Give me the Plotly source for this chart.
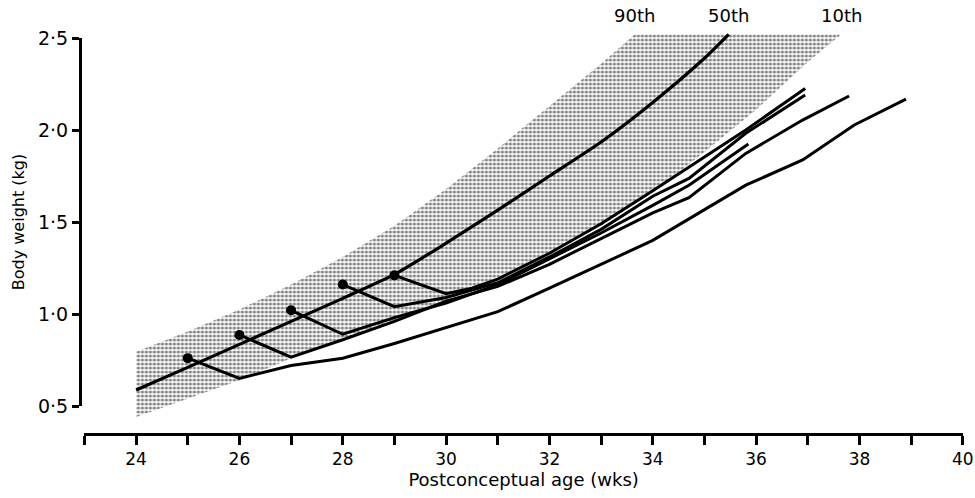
import plotly.graph_objects as go

# ---------------- data ----------------
weeks_p90 = [24, 25, 26, 27, 28, 29, 30, 31, 32, 33, 33.65]
p90 = [0.795, 0.905, 1.025, 1.16, 1.31, 1.48, 1.68, 1.90, 2.13, 2.36, 2.52]

weeks_p10 = [24, 25, 26, 27, 28, 29, 30, 31, 32, 33, 34, 35, 36, 37, 37.65]
p10 = [0.44, 0.54, 0.64, 0.76, 0.86, 0.96, 1.07, 1.20, 1.33, 1.48, 1.66, 1.88, 2.11, 2.37, 2.52]

weeks_p50 = [24, 25, 26, 27, 28, 29, 30, 31, 32, 33, 34, 35, 35.47]
p50 = [0.587, 0.71, 0.835, 0.96, 1.085, 1.215, 1.385, 1.565, 1.75, 1.935, 2.15, 2.39, 2.52]

inf1_wk = [25, 26, 27, 28, 29, 30, 31, 32, 33, 34, 35.8, 36.9, 37.9, 38.9]
inf1_wt = [0.76, 0.65, 0.72, 0.76, 0.84, 0.925, 1.013, 1.14, 1.27, 1.40, 1.70, 1.837, 2.027, 2.168]

inf2_wk = [26, 27, 28, 29, 30, 31, 32, 33, 34, 34.7, 35.8, 36.9, 37.8]
inf2_wt = [0.886, 0.765, 0.86, 0.96, 1.07, 1.15, 1.27, 1.41, 1.55, 1.632, 1.873, 2.054, 2.185]

inf3_wk = [27, 28, 29, 30, 31, 32, 33, 34, 34.7, 35.85]
inf3_wt = [1.02, 0.89, 0.98, 1.06, 1.16, 1.30, 1.44, 1.59, 1.70, 1.924]

inf4_wk = [28, 29, 30, 31, 32, 33, 34, 34.7, 35.8, 36.95]
inf4_wt = [1.16, 1.04, 1.09, 1.17, 1.31, 1.46, 1.64, 1.737, 1.982, 2.19]

inf5_wk = [29, 30, 30.5, 31, 32, 33, 34, 34.7, 35.8, 36.95]
inf5_wt = [1.21, 1.11, 1.14, 1.19, 1.33, 1.49, 1.67, 1.80, 2.00, 2.226]

y_tickvals = [0.5, 1.0, 1.5, 2.0, 2.5]
y_ticktext = ["0·5", "1·0", "1·5", "2·0", "2·5"]

percentile_labels = ["90th", "50th", "10th"]

# ---------------- figure ----------------
FONT = "DejaVu Sans"
infants = [(inf1_wk, inf1_wt), (inf2_wk, inf2_wt), (inf3_wk, inf3_wt),
           (inf4_wk, inf4_wt), (inf5_wk, inf5_wt)]

fig = go.Figure()

# shaded 10th-90th band
fig.add_trace(go.Scatter(
    x=weeks_p90 + weeks_p10[::-1],
    y=p90 + p10[::-1],
    mode="lines", fill="toself",
    line=dict(width=0, color="rgba(0,0,0,0)"),
    fillcolor="white",
    fillpattern=dict(shape=".", size=4, solidity=0.5,
                     fgcolor="black", bgcolor="white"),
    hoverinfo="skip", showlegend=False,
))

# 50th centile
fig.add_trace(go.Scatter(
    x=weeks_p50, y=p50, mode="lines",
    line=dict(color="black", width=3.2, shape="spline", smoothing=0.6),
    showlegend=False,
))

# individual infants
for wk, wt in infants:
    fig.add_trace(go.Scatter(
        x=wk, y=wt, mode="lines",
        line=dict(color="black", width=3),
        showlegend=False,
    ))

# birth points
fig.add_trace(go.Scatter(
    x=[wk[0] for wk, wt in infants],
    y=[wt[0] for wk, wt in infants],
    mode="markers", marker=dict(size=10, color="black"),
    showlegend=False,
))

# dummy trace for the visible y axis
fig.add_trace(go.Scatter(x=[None], y=[None], yaxis="y2",
                         showlegend=False, hoverinfo="skip"))

# percentile labels at the ends of the curves
for lab, xs in zip(percentile_labels, [weeks_p90, weeks_p50, weeks_p10]):
    fig.add_annotation(x=xs[-1], y=1, xref="x", yref="paper",
                       yanchor="bottom", yshift=2, text=lab, showarrow=False,
                       font=dict(family=FONT, size=18, color="black"))

# axis geometry: 184 px per kg, x-axis line 27 px below the 0.5 tick
ymin = 0.5 - 27 / 184
ymax = ymin + 403 / 184
span = ymax - ymin

fig.update_layout(
    width=975, height=498,
    margin=dict(l=80, r=10, t=30, b=65, autoexpand=False),
    paper_bgcolor="white", plot_bgcolor="rgba(0,0,0,0)",
    font=dict(family=FONT, color="black", size=18),
    showlegend=False,
    xaxis=dict(
        range=[23, 40], domain=[0.005, 0.9975], anchor="y", automargin=False,
        showline=True, linewidth=3, linecolor="black",
        ticks="outside", ticklen=9, tickwidth=2.5, tickcolor="black",
        tick0=24, dtick=2,
        minor=dict(ticks="outside", ticklen=9, tickwidth=2.5,
                   tickcolor="black", tick0=23, dtick=1, showgrid=False),
        showgrid=False, zeroline=False,
        tickfont=dict(size=17),
        title=dict(text="Postconceptual age (wks)", font=dict(size=18),
                   standoff=4),
    ),
    yaxis=dict(range=[ymin, ymax], domain=[0, 1], visible=False,
               automargin=False),
    yaxis2=dict(
        range=[0.5, 2.5],
        domain=[(0.5 - ymin) / span, (2.5 - ymin) / span],
        anchor="free", position=0, automargin=False,
        showline=True, linewidth=3, linecolor="black",
        ticks="outside", ticklen=7, tickwidth=3, tickcolor="black",
        tickvals=y_tickvals, ticktext=y_ticktext,
        showgrid=False, zeroline=False,
        tickfont=dict(size=19),
        title=dict(text="Body weight (kg)", font=dict(size=16), standoff=8),
    ),
)

fig.write_html("out.html",
               config={"displayModeBar": False},
               post_script="document.body.style.margin='0';"
                           "document.body.style.overflow='hidden';")
